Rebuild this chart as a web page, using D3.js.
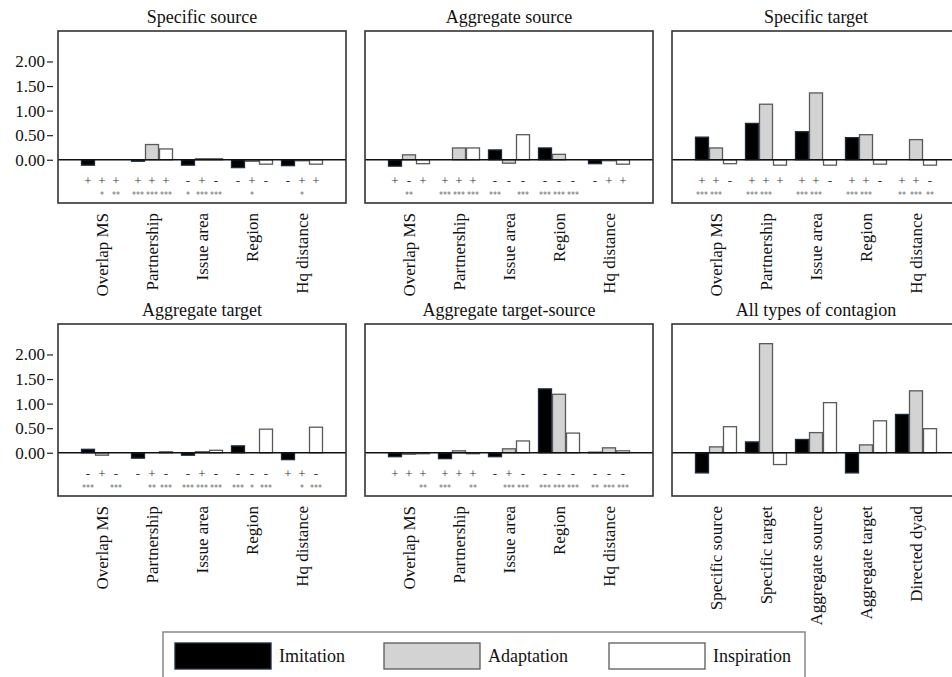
<!DOCTYPE html>
<html>
<head>
<meta charset="utf-8">
<script src="https://cdn.jsdelivr.net/npm/d3@7"></script>
<style>
  body { margin: 0; background: #fff; }
  svg { display: block; }
</style>
</head>
<body>
<div id="chart"></div>
<script>
const categories = ['Overlap MS', 'Partnership', 'Issue area', 'Region', 'Hq distance']
const contagionTypes = ['Specific source', 'Specific target', 'Aggregate source', 'Aggregate target', 'Directed dyad']
const seriesNames = ['Imitation', 'Adaptation', 'Inspiration']
const yTicks = [0, 0.5, 1, 1.5, 2]

// Specific source
const ssImitation = [-0.11, -0.03, -0.11, -0.16, -0.12]
const ssAdaptation = [0.00, 0.31, 0.02, -0.03, -0.02]
const ssInspiration = [0.00, 0.22, 0.02, -0.09, -0.09]
const ssSigns = ['+++', '+++', '-+-', '-+-', '-++']
const ssStars = [['', '*', '**'], ['***', '***', '***'], ['*', '***', '***'], ['', '*', ''], ['', '*', '']]

// Aggregate source
const asImitation = [-0.13, 0.00, 0.20, 0.24, -0.08]
const asAdaptation = [0.10, 0.24, -0.07, 0.11, -0.02]
const asInspiration = [-0.08, 0.24, 0.51, 0.00, -0.09]
const asSigns = ['+-+', '+++', '---', '---', '-++']
const asStars = [['', '**', ''], ['***', '***', '***'], ['***', '', '***'], ['***', '***', '***'], ['', '', '']]

// Specific target
const stImitation = [0.46, 0.74, 0.57, 0.45, 0.00]
const stAdaptation = [0.24, 1.13, 1.36, 0.51, 0.41]
const stInspiration = [-0.08, -0.11, -0.11, -0.09, -0.11]
const stSigns = ['++-', '+++', '++-', '++-', '++-']
const stStars = [['***', '***', ''], ['***', '***', ''], ['***', '***', ''], ['***', '***', ''], ['**', '***', '**']]

// Aggregate target
const atImitation = [0.07, -0.11, -0.05, 0.14, -0.14]
const atAdaptation = [-0.05, 0.00, 0.02, 0.00, 0.00]
const atInspiration = [0.00, 0.02, 0.05, 0.48, 0.52]
const atSigns = ['-+-', '-+-', '-+-', '---', '++-']
const atStars = [['***', '', '***'], ['', '**', '***'], ['***', '***', '***'], ['***', '*', '***'], ['', '*', '***']]

// Aggregate target-source
const atsImitation = [-0.08, -0.12, -0.08, 1.30, 0.01]
const atsAdaptation = [-0.03, 0.04, 0.08, 1.19, 0.10]
const atsInspiration = [-0.02, -0.02, 0.24, 0.40, 0.04]
const atsSigns = ['+++', '+++', '-+-', '---', '---']
const atsStars = [['', '', '**'], ['***', '', '**'], ['', '***', '***'], ['***', '***', '***'], ['**', '***', '***']]

// All types of contagion
const allImitation = [-0.41, 0.22, 0.27, -0.41, 0.78]
const allAdaptation = [0.12, 2.22, 0.41, 0.16, 1.26]
const allInspiration = [0.53, -0.24, 1.02, 0.65, 0.49]

const panels = [
    { title: 'Specific source', cats: categories, vals: [ssImitation, ssAdaptation, ssInspiration], signs: ssSigns, stars: ssStars, col: 0, row: 0 },
    { title: 'Aggregate source', cats: categories, vals: [asImitation, asAdaptation, asInspiration], signs: asSigns, stars: asStars, col: 1, row: 0 },
    { title: 'Specific target', cats: categories, vals: [stImitation, stAdaptation, stInspiration], signs: stSigns, stars: stStars, col: 2, row: 0 },
    { title: 'Aggregate target', cats: categories, vals: [atImitation, atAdaptation, atInspiration], signs: atSigns, stars: atStars, col: 0, row: 1 },
    { title: 'Aggregate target-source', cats: categories, vals: [atsImitation, atsAdaptation, atsInspiration], signs: atsSigns, stars: atsStars, col: 1, row: 1 },
    { title: 'All types of contagion', cats: contagionTypes, vals: [allImitation, allAdaptation, allInspiration], signs: null, stars: null, col: 2, row: 1 }
]

const fills = { Imitation: '#000000', Adaptation: '#d3d3d3', Inspiration: '#ffffff' }
const strokes = { Imitation: '#1c2a3c', Adaptation: '#5a5a5a', Inspiration: '#5a5a5a' }
const serif = "'Liberation Serif', 'Times New Roman', 'DejaVu Serif', serif"

const W = 952, H = 677
const colLeft = [58, 365, 672], rowTop = [31, 324]
const pw = 288, ph = 172

const svg = d3.select('#chart').append('svg')
    .attr('width', W)
    .attr('height', H)
    .attr('font-family', serif)
    .style('font-family', serif)

const y = d3.scaleLinear().domain([-0.88, 2.62]).range([ph, 0])

panels.forEach(p => {
    const g = svg.append('g')
        .attr('transform', `translate(${colLeft[p.col]}, ${rowTop[p.row]})`)

    const x = d3.scaleBand()
        .domain(p.cats)
        .range([0, pw])
        .paddingInner(0.16)
        .paddingOuter(0.46)
    const xs = d3.scaleBand()
        .domain(seriesNames)
        .range([0, x.bandwidth()])

    // title
    g.append('text')
        .attr('x', pw / 2)
        .attr('y', -8)
        .attr('text-anchor', 'middle')
        .style('font-family', serif)
        .style('font-size', '18px')
        .attr('fill', '#111')
        .text(p.title)

    // bars
    seriesNames.forEach((s, si) => {
        g.selectAll('rect.b' + si)
            .data(p.vals[si])
            .enter()
            .append('rect')
            .attr('x', (d, i) => x(p.cats[i]) + xs(s) + 0.5)
            .attr('y', d => y(Math.max(0, d)))
            .attr('width', xs.bandwidth() - 1)
            .attr('height', d => Math.abs(y(d) - y(0)))
            .attr('fill', fills[s])
            .attr('stroke', strokes[s])
            .attr('stroke-width', 1.3)
    })

    // zero line
    g.append('line')
        .attr('x1', 0).attr('x2', pw)
        .attr('y1', y(0)).attr('y2', y(0))
        .attr('stroke', '#111')
        .attr('stroke-width', 1.4)

    // significance signs
    if (p.signs) {
        p.cats.forEach((c, i) => {
            seriesNames.forEach((s, si) => {
                const cx = x(c) + xs(s) + xs.bandwidth() / 2
                g.append('text')
                    .attr('x', cx)
                    .attr('y', y(0) + 25)
                    .attr('text-anchor', 'middle')
                    .style('font-family', serif)
                    .style('font-size', '13px')
                    .attr('fill', '#333')
                    .text(p.signs[i][si])
                if (p.stars[i][si])
                    g.append('text')
                        .attr('x', cx)
                        .attr('y', y(0) + 38)
                        .attr('text-anchor', 'middle')
                        .style('font-size', '8px')
                        .style('font-family', 'DejaVu Sans')
                        .attr('fill', '#666')
                        .text(p.stars[i][si])
            })
        })
    }

    // frame
    g.append('rect')
        .attr('x', 0).attr('y', 0)
        .attr('width', pw).attr('height', ph)
        .attr('fill', 'none')
        .attr('stroke', '#333')
        .attr('stroke-width', 1.6)

    // category labels
    g.selectAll('text.cat')
        .data(p.cats)
        .enter()
        .append('text')
        .attr('transform', d => `translate(${x(d) + x.bandwidth() / 2}, ${ph + 10}) rotate(-90)`)
        .attr('dy', '0.35em')
        .attr('text-anchor', 'end')
        .style('font-family', serif)
        .style('font-size', '17px')
        .attr('fill', '#111')
        .text(d => d)

    // Y axis on left column
    if (p.col === 0) {
        const yAxis = d3.axisLeft(y)
            .tickValues(yTicks)
            .tickSize(6)
            .tickPadding(2)
            .tickFormat(d3.format('.2f'))
        const ag = g.append('g')
            .attr('transform', 'translate(-5, 0)')
            .call(yAxis)
            .attr('font-family', serif)
            .attr('font-size', 17)
        ag.select('.domain').remove()
        ag.selectAll('line').attr('stroke', '#222').attr('stroke-width', 1.2)
        ag.selectAll('text')
            .style('font-size', '17px')
            .style('font-family', serif)
            .attr('fill', '#111')
    }
})

// legend
const lg = svg.append('g')
lg.append('rect')
    .attr('x', 163).attr('y', 632)
    .attr('width', 642).attr('height', 60)
    .attr('fill', 'none')
    .attr('stroke', '#888')
    .attr('stroke-width', 1.5)
const legendX = [175, 384, 609]
seriesNames.forEach((s, i) => {
    lg.append('rect')
        .attr('x', legendX[i]).attr('y', 643)
        .attr('width', 96).attr('height', 26)
        .attr('fill', fills[s])
        .attr('stroke', strokes[s])
        .attr('stroke-width', 1.3)
    lg.append('text')
        .attr('x', legendX[i] + 104)
        .attr('y', 662)
        .style('font-family', serif)
        .style('font-size', '18px')
        .attr('fill', '#111')
        .text(s)
})
</script>
</body>
</html>
